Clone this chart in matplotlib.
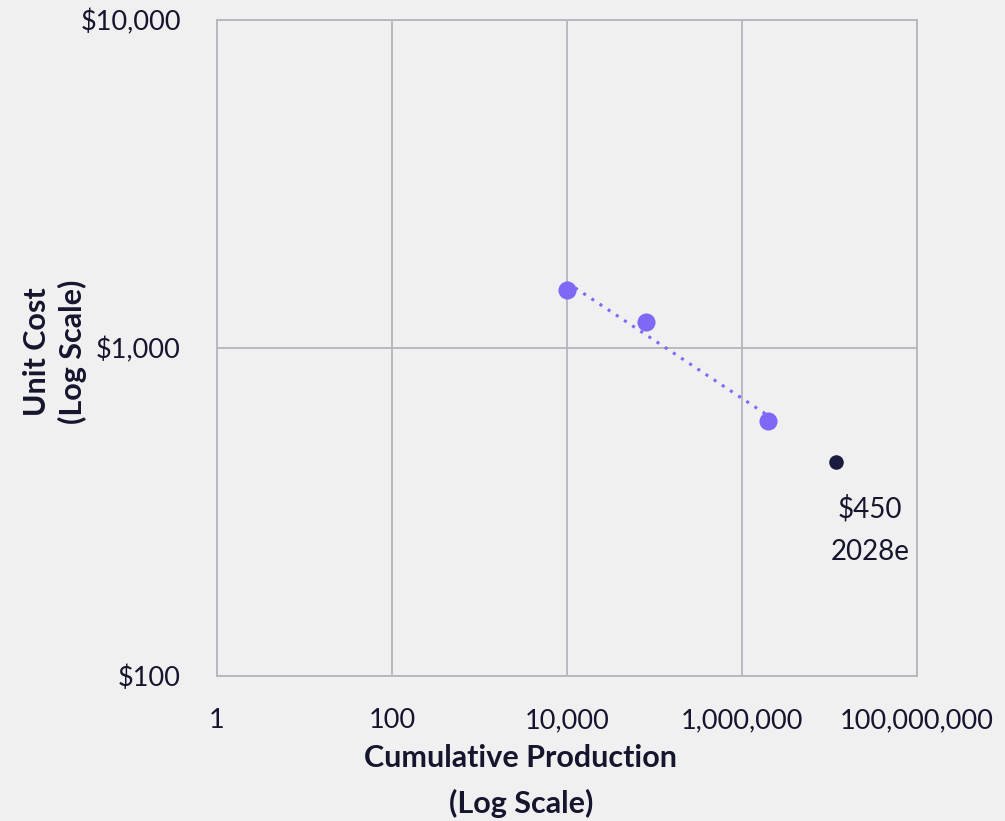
import numpy as np
import matplotlib
matplotlib.use("Agg")
import matplotlib.pyplot as plt
from matplotlib.ticker import FixedLocator, FixedFormatter

plt.rcParams['font.family'] = ['Lato', 'DejaVu Sans']

# Data
hist_production = [10000, 80000, 2000000]
hist_cost = [1500, 1200, 600]
proj_production = [12000000]
proj_cost = [450]
proj_label = "$450\n2028e"

x_ticks = [1, 100, 10000, 1000000, 100000000]
x_tick_labels = ["1", "100", "10,000", "1,000,000", "100,000,000"]
y_ticks = [100, 1000, 10000]
y_tick_labels = ["$100", "$1,000", "$10,000"]

bg = "#f0f0f0"
grid_c = "#b5b5bd"
purple = "#8068f7"
dark = "#1b1b40"
text_c = "#15152e"

fig = plt.figure(figsize=(10.05, 8.21), dpi=100, facecolor=bg)
ax = fig.add_axes([217/1005, 1 - 676/821, 700/1005, 656/821])
ax.set_facecolor(bg)
ax.set_xscale('log')
ax.set_yscale('log')
ax.set_xlim(1, 1e8)
ax.set_ylim(100, 10000)

ax.xaxis.set_major_locator(FixedLocator(x_ticks))
ax.xaxis.set_major_formatter(FixedFormatter(x_tick_labels))
ax.xaxis.set_minor_locator(FixedLocator([]))
ax.yaxis.set_major_locator(FixedLocator(y_ticks))
ax.yaxis.set_major_formatter(FixedFormatter(y_tick_labels))
ax.yaxis.set_minor_locator(FixedLocator([]))

ax.grid(True, color=grid_c, linewidth=1.3)
ax.set_axisbelow(True)
for s in ax.spines.values():
    s.set_color(grid_c)
    s.set_linewidth(1.3)
ax.tick_params(length=0, labelsize=19.5, colors=text_c)
ax.tick_params(axis='x', pad=23)
ax.tick_params(axis='y', pad=26)

# trend line (power-law fit over historical points)
lx = np.log10(hist_production)
ly = np.log10(hist_cost)
m, b = np.polyfit(lx, ly, 1)
xs = np.array([min(hist_production), max(hist_production)])
ax.plot(xs, 10 ** (m * np.log10(xs) + b), linestyle=(0, (1, 2.2)), color=purple,
        linewidth=2.2, zorder=3)

ax.scatter(hist_production, hist_cost, s=170, color=purple, zorder=4, linewidths=0)
ax.scatter(proj_production, proj_cost, s=110, color=dark, zorder=4, linewidths=0)
ax.annotate(proj_label, (proj_production[0], proj_cost[0]), xytext=(24, -49),
            textcoords='offset points', ha='center', va='center', fontsize=20,
            color=text_c, linespacing=1.8)

fig.text(521/1005, 1 - 758/821, "Cumulative Production", fontsize=22, fontweight='bold',
         color=text_c, ha='center', va='center')
fig.text(521/1005, 1 - 803/821, "(Log Scale)", fontsize=22, fontweight='bold',
         color=text_c, ha='center', va='center')
fig.text(55/1005, 1 - 352/821, "Unit Cost\n(Log Scale)", fontsize=22, fontweight='bold',
         color=text_c, ha='center', va='center', rotation=90, linespacing=1.3,
         multialignment='center')

fig.savefig("out.png", dpi=100, facecolor=bg)
